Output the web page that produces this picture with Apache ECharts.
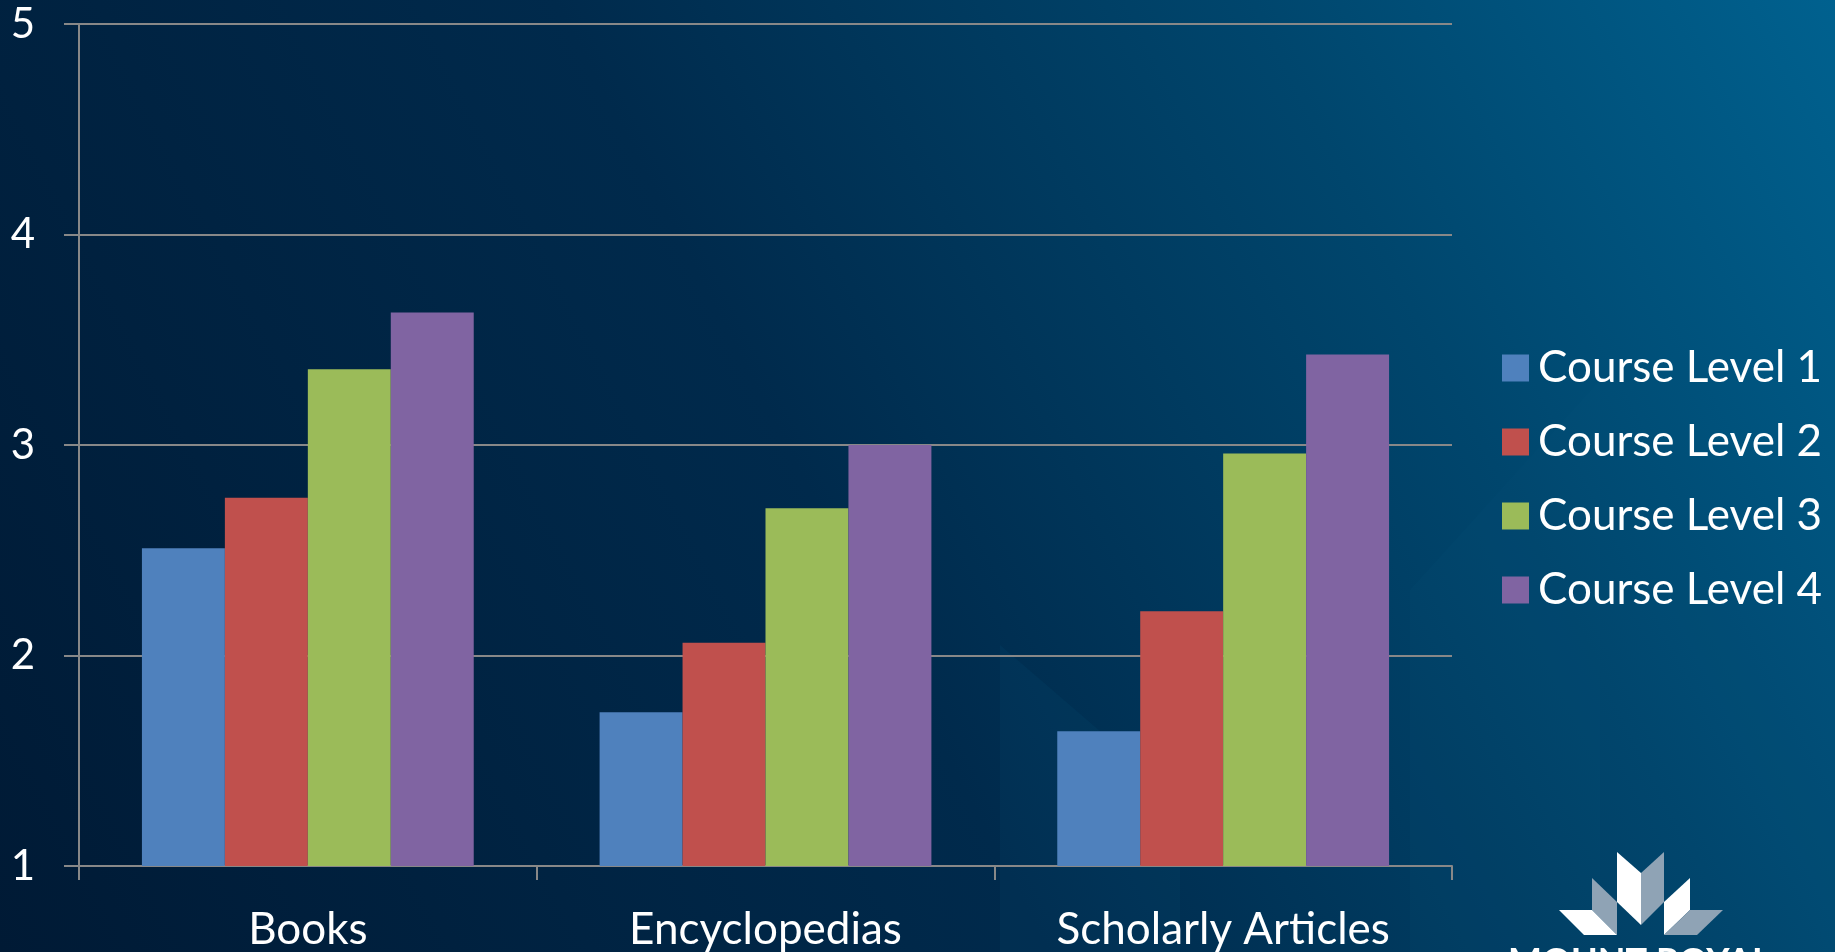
<!DOCTYPE html>
<html>
<head>
<meta charset="utf-8">
<script src="https://cdn.jsdelivr.net/npm/echarts@6/dist/echarts.min.js"></script>
<style>
html,body{margin:0;padding:0;width:1835px;height:952px;overflow:hidden;background:#001f3d;}
#c{width:1835px;height:952px;}
</style>
</head>
<body>
<div id="c"></div>
<script>
var categories = ['Books', 'Encyclopedias', 'Scholarly Articles'];
var seriesNames = ['Course Level 1', 'Course Level 2', 'Course Level 3', 'Course Level 4'];
var level1 = [2.51, 1.73, 1.64];
var level2 = [2.75, 2.06, 2.21];
var level3 = [3.36, 2.70, 2.96];
var level4 = [3.63, 3.00, 3.43];
var yTicks = [1, 2, 3, 4, 5];
var colors = ['#4f81bd', '#c0504d', '#9bbb59', '#8064a2'];

var chart = echarts.init(document.getElementById('c'), null, {renderer: 'canvas'});
var FONT = 'Lato, "Open Sans", sans-serif';
var allData = [level1, level2, level3, level4];

function poly(points, fill, opacity) {
  return {type: 'polygon', silent: true, shape: {points: points}, style: {fill: fill, opacity: opacity}, z: -10};
}

var option = {
  backgroundColor: {
    type: 'linear', x: 0, y: 1, x2: 1, y2: 0,
    colorStops: [
      {offset: 0, color: '#001a35'},
      {offset: 0.45, color: '#002a4c'},
      {offset: 0.75, color: '#00466d'},
      {offset: 1, color: '#00618f'}
    ]
  },
  animation: false,
  graphic: [
    poly([[1000,645],[1000,952],[1180,952],[1180,800]], '#0a5a80', 0.12),
    poly([[1410,590],[1600,380],[1600,952],[1410,952]], '#0a5a80', 0.10),
    poly([[1600,600],[1835,600],[1835,952],[1600,952]], '#0a4a70', 0.08),
    // logo
    poly([[1617,852],[1641,873],[1641,925],[1617,902]], '#ffffff', 1),
    poly([[1641,873],[1664,852],[1664,902],[1641,925]], '#8fa3b5', 1),
    poly([[1592,878],[1617,902],[1617,935],[1592,910]], '#8fa3b5', 1),
    poly([[1559,910],[1592,910],[1617,935],[1584,935]], '#ffffff', 1),
    poly([[1664,902],[1690,878],[1690,910],[1664,935]], '#ffffff', 1),
    poly([[1690,910],[1723,910],[1697,935],[1664,935]], '#8fa3b5', 1),
    {type: 'text', silent: true, left: 1508, top: 944, z: -5,
     style: {text: 'MOUNT ROYAL', fill: '#ffffff', font: 'bold 36px ' + FONT}}
  ],
  grid: {left: 79, right: 1835 - 1452, top: 24, bottom: 952 - 866, containLabel: false},
  legend: {
    orient: 'vertical',
    left: 1497,
    top: 341,
    itemWidth: 27,
    itemHeight: 27,
    itemGap: 30,
    icon: 'rect',
    data: seriesNames,
    textStyle: {color: '#ffffff', fontSize: 44, fontFamily: FONT, padding: [0, 0, 0, 4], lineHeight: 44}
  },
  xAxis: {
    type: 'category',
    data: categories,
    axisLine: {show: true, lineStyle: {color: '#888888', width: 2}},
    axisTick: {show: true, length: 14, lineStyle: {color: '#888888', width: 2}},
    axisLabel: {color: '#ffffff', fontSize: 44, fontFamily: FONT, margin: 42}
  },
  yAxis: {
    type: 'value',
    min: yTicks[0],
    max: yTicks[yTicks.length - 1],
    interval: 1,
    axisLine: {show: true, lineStyle: {color: '#888888', width: 2}},
    axisTick: {show: true, length: 15, lineStyle: {color: '#888888', width: 2}},
    splitLine: {show: true, lineStyle: {color: '#888888', width: 2}},
    axisLabel: {color: '#ffffff', fontSize: 42, fontFamily: FONT, margin: 44}
  },
  series: seriesNames.map(function (n, i) {
    return {
      name: n,
      type: 'bar',
      data: allData[i],
      barGap: '0%',
      barCategoryGap: '27.5%',
      itemStyle: {color: colors[i]}
    };
  })
};
chart.setOption(option);
</script>
</body>
</html>
